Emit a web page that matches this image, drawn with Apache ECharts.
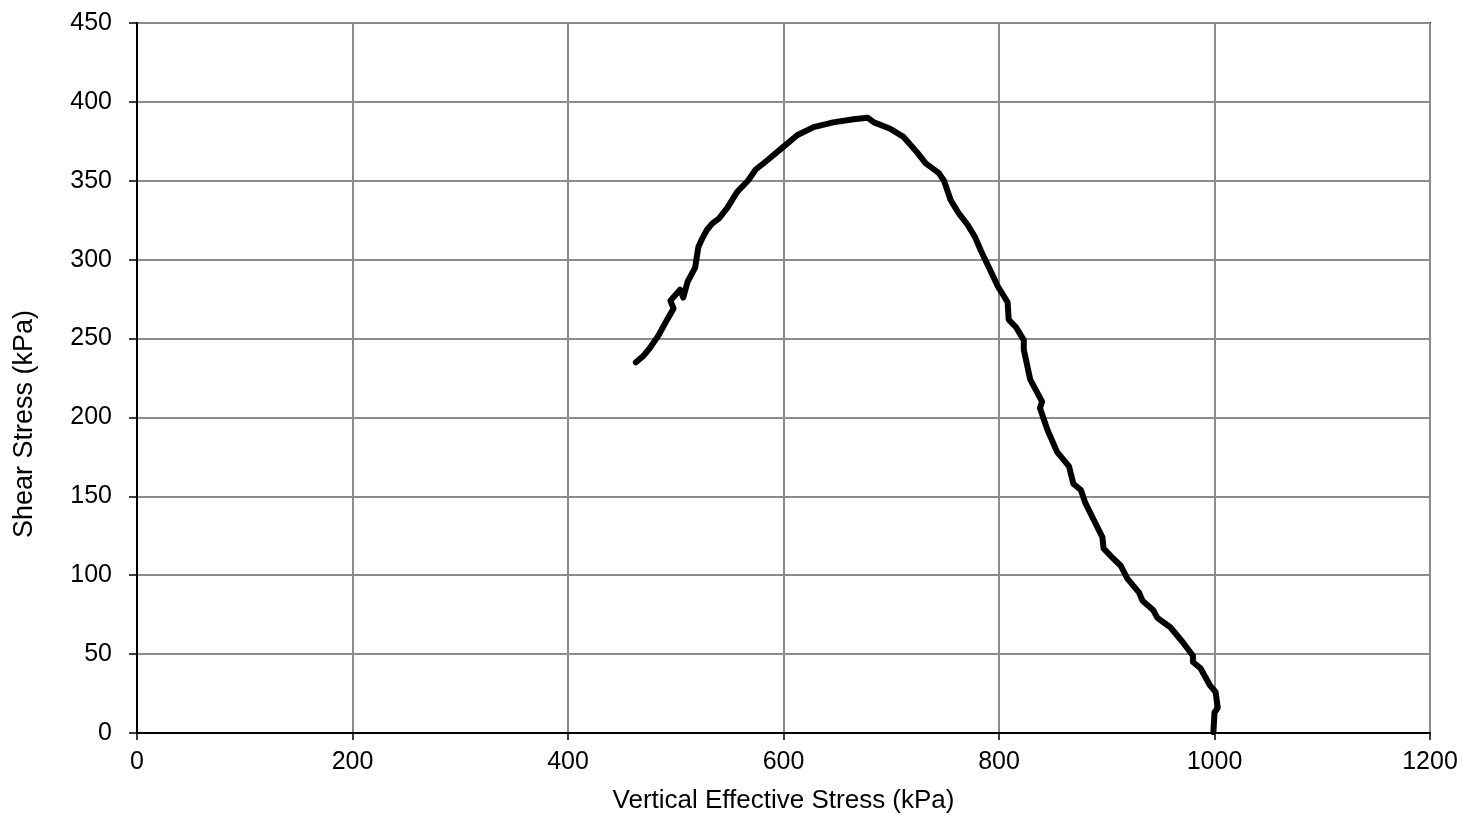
<!DOCTYPE html>
<html>
<head>
<meta charset="utf-8">
<script src="https://cdn.jsdelivr.net/npm/echarts@6/dist/echarts.min.js"></script>
<style>
html,body{margin:0;padding:0;background:#fff;}
#chart{width:1468px;height:820px;}
</style>
</head>
<body>
<div id="chart"></div>
<script>
// Vertical effective stress (kPa)
const sigmaV = [463, 470, 476, 484, 488, 492, 498, 495, 504, 507, 511, 518, 521, 525, 529, 534, 540, 548, 557, 567, 574, 585, 599, 613, 628, 646, 665, 678, 684, 699, 711, 724, 732, 744, 749, 755, 762, 771, 778, 783, 790, 799, 808, 809, 816, 823, 823, 829, 840, 838, 845, 854, 865, 869, 876, 880, 888, 896, 897, 904, 913, 919, 930, 933, 943, 947, 959, 970, 980, 980, 987, 996, 1001, 1003, 1000, 999];
// Shear stress (kPa)
const tau = [235, 239, 244, 252, 257, 262, 269, 274, 281, 276, 286, 295, 308, 314, 319, 323, 326, 333, 343, 350, 357, 363, 371, 379, 384, 387, 389, 390, 387, 383, 378, 368, 361, 355, 350, 338, 330, 322, 314, 306, 296, 283, 273, 262, 257, 249, 243, 224, 210, 206, 192, 178, 169, 158, 154, 146, 135, 124, 117, 112, 106, 98, 89, 84, 78, 73, 67, 58, 49, 45, 41, 30, 26, 16, 13, 0.6];
const xTicks = [0, 200, 400, 600, 800, 1000, 1200];
const yTicks = [0, 50, 100, 150, 200, 250, 300, 350, 400, 450];

const chart = echarts.init(document.getElementById('chart'));
const font = 'Liberation Sans, Arial, sans-serif';
chart.setOption({
  animation: false,
  backgroundColor: '#fff',
  grid: {left: 137, right: 38, top: 23, bottom: 87, show: true, borderColor: '#000', borderWidth: 2, backgroundColor: 'transparent'},
  xAxis: {
    type: 'value', min: xTicks[0], max: xTicks[xTicks.length-1], interval: 200,
    name: 'Vertical Effective Stress (kPa)', nameLocation: 'middle', nameGap: 55,
    nameTextStyle: {fontFamily: font, fontSize: 26, color: '#000'},
    axisLine: {show: true, onZero: false, lineStyle: {color: '#000', width: 2}},
    axisTick: {show: true, inside: false, length: 7, lineStyle: {color: '#000', width: 1.5}},
    axisLabel: {fontFamily: font, fontSize: 25, color: '#000', margin: 17, formatter: v => String(v)},
    splitLine: {show: true, lineStyle: {color: '#8c8c8c', width: 2}}
  },
  yAxis: {
    type: 'value', min: yTicks[0], max: yTicks[yTicks.length-1], interval: 50,
    name: 'Shear Stress (kPa)', nameLocation: 'middle', nameGap: 99, nameRotate: 90,
    nameTextStyle: {fontFamily: font, fontSize: 27, color: '#000', padding: [0, 92, 0, 0]},
    axisLine: {show: true, onZero: false, lineStyle: {color: '#000', width: 2}},
    axisTick: {show: true, inside: false, length: 8, lineStyle: {color: '#000', width: 1.5}},
    axisLabel: {fontFamily: font, fontSize: 25, color: '#000', margin: 25, formatter: v => String(v)},
    splitLine: {show: true, lineStyle: {color: '#8c8c8c', width: 2}}
  },
  series: [{
    type: 'line',
    data: sigmaV.map((v, i) => [v, tau[i]]),
    showSymbol: false,
    symbol: 'none',
    lineStyle: {color: '#000', width: 6, cap: 'round', join: 'round'},
    z: 5
  }]
});
</script>
</body>
</html>
